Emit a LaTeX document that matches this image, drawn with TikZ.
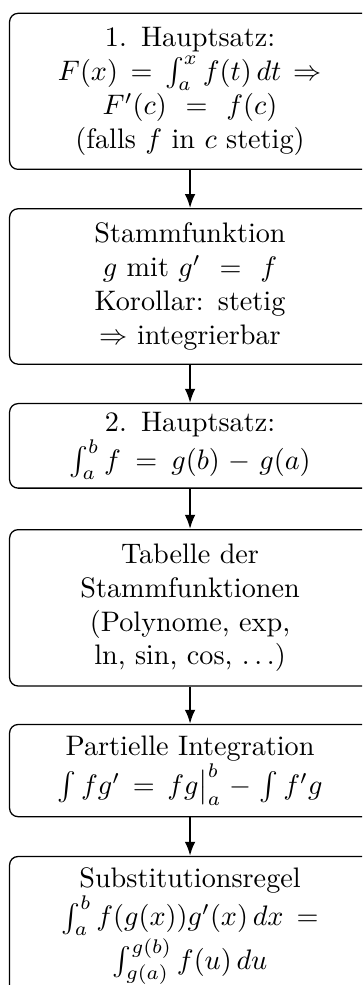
\documentclass[tikz,border=0pt]{standalone}
\usetikzlibrary{arrows.meta}
\begin{document}
\begin{tikzpicture}[
  box/.style={draw, rounded corners=3pt, align=center, text width=118pt,
    minimum width=128pt, inner xsep=5pt, inner ysep=5pt, line width=0.45pt,
    anchor=north},
  flow/.style={-{Latex[length=5pt,width=3.8pt]}, line width=0.75pt}
]
\useasboundingbox (-67.4pt,4.5pt) rectangle (61pt,-344.8pt);
\clip (-67.4pt,4.5pt) rectangle (61pt,-344.8pt);
\node[box] (b1) at (0,0)
  {\mbox{1. Hauptsatz:}\\
   $F(x) = \int_a^x f(t)\,dt \Rightarrow$\\
   $F'(c) = f(c)$\\
   \mbox{(falls $f$ in $c$ stetig)}};
\node[box] (b2) at (0,-69.3pt)
  {\mbox{Stammfunktion}\\
   \mbox{$g$ mit} $g' = f$\\
   \mbox{Korollar: stetig}\\
   \mbox{$\Rightarrow$ integrierbar}};
\node[box, inner ysep=3.1pt] (b3) at (0,-138.4pt)
  {\mbox{2. Hauptsatz:}\\
   $\int_a^b f = g(b) - g(a)$};
\node[box] (b4) at (0,-183.1pt)
  {\mbox{Tabelle der}\\
   \mbox{Stammfunktionen}\\
   \mbox{(Polynome, $\exp$,}\\
   \mbox{$\ln$, $\sin$, $\cos$, $\ldots$)}};
\node[box, inner ysep=3.9pt] (b5) at (0,-252.2pt)
  {\mbox{Partielle Integration}\\
   $\int fg' = fg\big|_a^b - \int f'g$};
\node[box, inner ysep=4pt] (b6) at (0,-299pt)
  {\mbox{Substitutionsregel}\\
   $\int_a^b f(g(x))g'(x)\,dx =$\\
   $\int_{g(a)}^{g(b)} f(u)\,du$};
\draw[flow] (b1) -- (b2);
\draw[flow] (b2) -- (b3);
\draw[flow] (b3) -- (b4);
\draw[flow] (b4) -- (b5);
\draw[flow] (b5) -- (b6);
\end{tikzpicture}
\end{document}
